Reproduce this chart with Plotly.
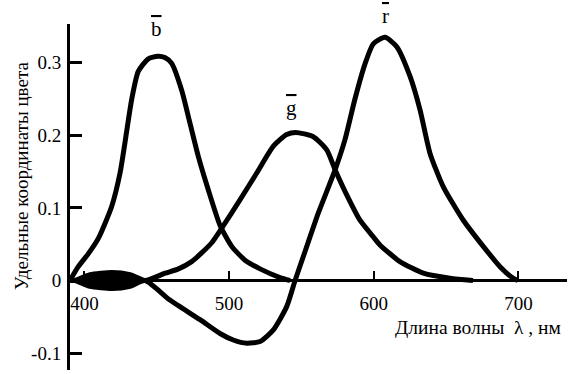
import plotly.graph_objects as go

# --- data (wavelength nm, specific colour coordinate) ---
b_nm = [390.0, 395.7, 402.7, 409.6, 418.8, 424.6, 428.0, 432.7, 437.2, 443.9, 450.8, 455.6, 460.3,
        467.2, 472.9, 478.7, 485.6, 493.7, 501.8, 511.0, 521.4, 535.2, 542.1]
b_val = [0.0, 0.019, 0.037, 0.058, 0.102, 0.148, 0.190, 0.250, 0.288, 0.305, 0.309, 0.307, 0.299,
         0.262, 0.217, 0.171, 0.125, 0.076, 0.047, 0.028, 0.016, 0.004, 0.0]

g_nm = [390.0, 393.5, 403.8, 419.0, 431.5, 441.8, 455.7, 465.0, 474.1, 481.0, 488.0, 494.9, 507.5,
        519.1, 530.6, 539.8, 546.0, 558.2, 567.5, 573.2, 581.3, 590.5, 599.7, 604.3,
        618.1, 634.3, 652.7, 668.6]
g_val = [0.0, 0.0, 0.008, 0.011, 0.008, 0.0, 0.010, 0.016, 0.026, 0.038, 0.052, 0.072, 0.111,
         0.148, 0.185, 0.201, 0.204, 0.198, 0.180, 0.153, 0.118, 0.083, 0.060, 0.049,
         0.026, 0.010, 0.003, 0.0]

r_nm = [390.0, 393.5, 403.8, 419.0, 431.5, 441.8, 459.1, 479.9, 493.7, 502.9, 512.2, 521.4,
        530.6, 539.8, 545.6, 552.5, 561.7, 573.2, 580.1, 587.0, 593.9, 599.7, 607.8,
        615.9, 625.1, 632.0, 638.9, 648.1, 661.9, 675.7, 687.3, 696.5, 699.7]
r_val = [0.0, 0.0, -0.008, -0.011, -0.008, 0.0, -0.027, -0.054, -0.073, -0.082, -0.0865, -0.084,
         -0.068, -0.036, 0.0, 0.040, 0.093, 0.152, 0.194, 0.250, 0.298, 0.326, 0.335,
         0.322, 0.281, 0.235, 0.175, 0.129, 0.083, 0.047, 0.019, 0.003, 0.0]

x_ticks = [400, 500, 600, 700]
y_ticks = [-0.1, 0, 0.1, 0.2, 0.3]
y_tick_text = ["-0.1", "0", "0.1", "0.2", "0.3"]

labels = ["b", "g", "r"]
label_nm = [449.5, 543.4, 608.4]
label_val = [0.347, 0.238, 0.365]

FONT = "Liberation Serif"
LW = 5
XR = [390.0, 733.6]
YR = [-0.1233, 0.3533]

fig = go.Figure()

# dark overlap region where g and r hug the axis near 400 nm
blob_end = 441.8
gx = [x for x in g_nm if x <= blob_end]
gy = [y for x, y in zip(g_nm, g_val) if x <= blob_end]
rx = [x for x in r_nm if x <= blob_end]
ry = [y for x, y in zip(r_nm, r_val) if x <= blob_end]
fig.add_trace(go.Scatter(x=gx + rx[::-1], y=gy + ry[::-1], mode="lines", fill="toself",
                         fillcolor="black", line=dict(color="black", width=1, shape="spline"),
                         hoverinfo="skip", showlegend=False))

for xs, ys in [(b_nm, b_val), (g_nm, g_val), (r_nm, r_val)]:
    fig.add_trace(go.Scatter(x=xs, y=ys, mode="lines",
                             line=dict(color="black", width=LW, shape="spline", smoothing=0.6),
                             showlegend=False))

xpos = (0 - YR[0]) / (YR[1] - YR[0])

fig.update_layout(
    width=575, height=374,
    margin=dict(l=70, r=8, t=24, b=4, autoexpand=False),
    paper_bgcolor="white", plot_bgcolor="white",
    font=dict(family=FONT, size=18, color="black"),
    xaxis=dict(range=XR, anchor="free", position=xpos, automargin=False,
               showline=True, linecolor="black", linewidth=3,
               ticks="inside", ticklen=8, tickwidth=2, tickcolor="black",
               tickvals=x_ticks, showgrid=False, zeroline=False, ticklabelstandoff=5,
               tickfont=dict(family=FONT, size=19)),
    yaxis=dict(range=YR, automargin=False, showline=True, linecolor="black", linewidth=3,
               ticks="inside", ticklen=12, tickwidth=3, tickcolor="black",
               tickvals=y_ticks, ticktext=y_tick_text, showgrid=False, zeroline=False,
               ticklabelstandoff=2,
               tickfont=dict(family=FONT, size=19)),
)

for t, x, y in zip(labels, label_nm, label_val):
    fig.add_annotation(xref="paper", yref="paper",
                       x=(x - XR[0]) / (XR[1] - XR[0]), y=(y - YR[0]) / (YR[1] - YR[0]),
                       xanchor="center", yanchor="middle",
                       text="<span style='text-decoration:overline'>" + t + "</span>",
                       showarrow=False,
                       font=dict(family=FONT, size=21, color="black"))

fig.add_annotation(xref="paper", yref="paper", x=-0.0966, y=0.5607,
                   text="Удельные координаты цвета", textangle=-90, showarrow=False,
                   xanchor="center", yanchor="middle",
                   font=dict(family=FONT, size=19, color="black"))
fig.add_annotation(xref="paper", yref="paper", x=0.992, y=0.122,
                   text="Длина волны  λ , нм", showarrow=False,
                   xanchor="right", yanchor="middle",
                   font=dict(family=FONT, size=19.5, color="black"))

fig.write_html("out.html", config={"displayModeBar": False},
               post_script="document.body.style.margin='0';")
